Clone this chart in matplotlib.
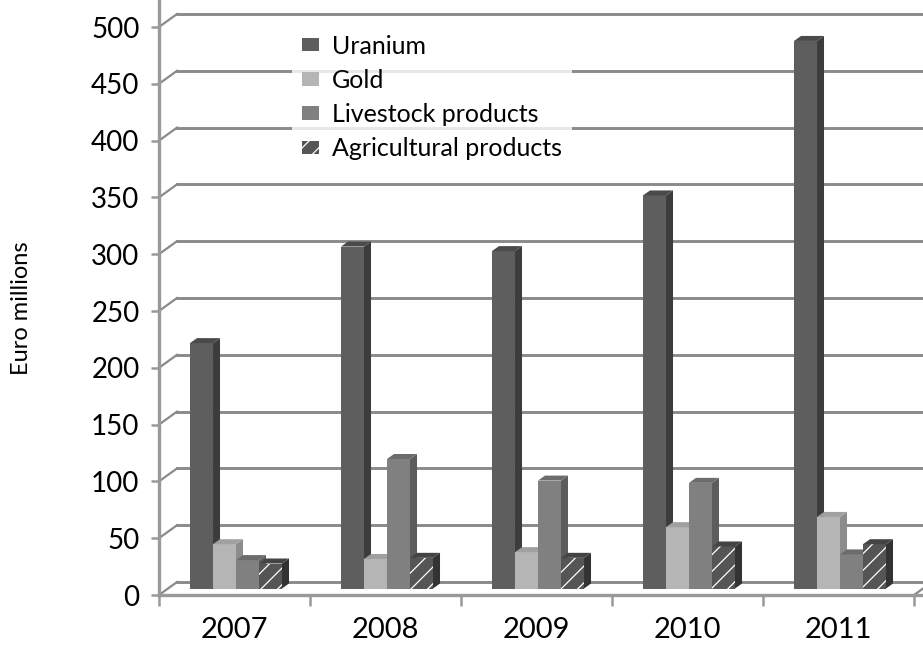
import numpy as np
import matplotlib
matplotlib.use("Agg")
import matplotlib.pyplot as plt
from matplotlib.patches import Polygon, Patch

plt.rcParams['font.family'] = ['Lato', 'DejaVu Sans']
plt.rcParams['hatch.linewidth'] = 0.9

years = ['2007', '2008', '2009', '2010', '2011']
series = ['Uranium', 'Gold', 'Livestock products', 'Agricultural products']
uranium = [216, 301, 297, 346, 482]
gold = [39, 26, 32, 54, 63]
livestock = [25, 114, 95, 93, 30]
agricultural = [22, 27, 27, 37, 39]
yticks = list(range(0, 501, 50))

values = [uranium, gold, livestock, agricultural]
front_col = ['#5e5e5e', '#b5b5b5', '#808080', '#555555']
side_col = ['#3c3c3c', '#8c8c8c', '#5c5c5c', '#333333']
top_col = ['#4a4a4a', '#a0a0a0', '#6c6c6c', '#444444']
hatches = [None, None, None, '//']
grid_c = '#8a8a8a'

W, H = 923, 645
fig = plt.figure(figsize=(W / 100, H / 100), dpi=100)
ax = fig.add_axes([159 / W, 50 / H, 764 / W, 595 / H])
px_per_unit = 1.136
ax.set_xlim(-0.5, 4.5 + 9 / 151)
ax.set_ylim(0, 595 / px_per_unit)
ax.patch.set_alpha(0)

# depth offsets (wall / bars) in data units
wdx, wdy = 18 / 151, 13 / px_per_unit
bdx, bdy = 7 / 151, 5 / px_per_unit
base = 6.5 / px_per_unit

# back wall grid + left wall diagonals
x0 = -0.5
for v in yticks:
    ax.plot([x0 + wdx, 5], [v + wdy, v + wdy], color=grid_c, lw=2.1, zorder=1)
    ax.plot([x0, x0 + wdx], [v, v + wdy], color=grid_c, lw=1.6, zorder=1, clip_on=False)
ax.plot([4.5, 4.5 + wdx], [0, wdy], color=grid_c, lw=1.6, zorder=1)

bw = 23 / 151
x = np.arange(len(years))
for k, vals in enumerate(values):
    pos = x + (k - 1.5) * bw + 0.01
    bars = ax.bar(pos, vals, width=bw, bottom=base, color=front_col[k],
                  hatch=hatches[k], edgecolor='white', linewidth=0, zorder=3 + k)
    for r in bars:
        bx0, bx1 = r.get_x(), r.get_x() + r.get_width()
        b, t = r.get_y(), r.get_y() + r.get_height()
        ax.add_patch(Polygon([(bx1, b), (bx1 + bdx, b + bdy), (bx1 + bdx, t + bdy), (bx1, t)],
                             closed=True, facecolor=side_col[k], edgecolor='none', zorder=3 + k))
        ax.add_patch(Polygon([(bx0, t), (bx0 + bdx, t + bdy), (bx1 + bdx, t + bdy), (bx1, t)],
                             closed=True, facecolor=top_col[k], edgecolor='none', zorder=3 + k))

for s in ['top', 'right']:
    ax.spines[s].set_visible(False)
for s in ['left', 'bottom']:
    ax.spines[s].set_color('#999999')
    ax.spines[s].set_linewidth(2.4)

ax.set_yticks(yticks)
ax.set_yticklabels([str(v) for v in yticks], fontsize=20)
ax.tick_params(axis='y', direction='out', length=6, width=1.8, color='#999999', pad=8)

ax.set_xticks(np.arange(-0.5, 5, 1.0))
ax.set_xticklabels([])
ax.set_xticks(x, minor=True)
ax.set_xticklabels(years, minor=True, fontsize=21)
ax.tick_params(axis='x', which='major', direction='out', length=8, width=1.8, color='#999999')
ax.tick_params(axis='x', which='minor', length=0, pad=16)

fig.text(22 / W, 1 - 308 / H, 'Euro millions', rotation=90, ha='center', va='center', fontsize=17)

handles = [Patch(facecolor=front_col[k], hatch=hatches[k], edgecolor='white', linewidth=0)
           for k in range(4)]
leg = ax.legend(handles, series, loc='upper left', bbox_to_anchor=(279 / W, 1 - 12 / H),
                bbox_transform=fig.transFigure, fontsize=18, frameon=True, fancybox=False,
                handlelength=0.7, handleheight=0.45, handletextpad=0.5, labelspacing=0.45,
                borderpad=0.4)
leg.get_frame().set_facecolor('white')
leg.get_frame().set_edgecolor('none')
leg.set_zorder(20)

fig.savefig('out.png', dpi=100)
